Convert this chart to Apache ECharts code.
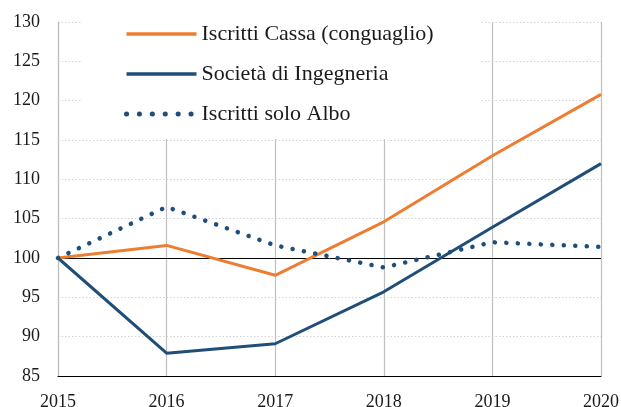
<!DOCTYPE html>
<html><head><meta charset="utf-8">
<script src="https://cdn.jsdelivr.net/npm/echarts@6/dist/echarts.min.js"></script>
<style>html,body{margin:0;padding:0;background:#fff}#c{width:621px;height:407px}</style>
</head><body><div id="c"></div>
<script>
const years = ['2015','2016','2017','2018','2019','2020'];
const iscrittiCassa = [100, 101.6, 97.8, 104.6, 113.0, 120.8];
const societa = [100, 87.9, 89.1, 95.7, 103.9, 112.0];
const soloAlbo = [100, 106.5, 101.6, 98.8, 102.0, 101.4];
const seriesNames = ['Iscritti Cassa (conguaglio)', 'Società di Ingegneria', 'Iscritti solo Albo'];

const FONT = '"Liberation Serif", "DejaVu Serif", serif';
const ORANGE = '#ED7D31', BLUE = '#1F4E79';
const chart = echarts.init(document.getElementById('c'), null, {renderer:'canvas'});
chart.setOption({
  animation: false,
  backgroundColor: '#fff',
  grid: {left: 58, right: 20, top: 22, bottom: 31, containLabel: false, outerBoundsMode: 'none'},
  legend: {
    orient: 'vertical', left: 82, top: 0,
    padding: [23, 47, 14, 42],
    backgroundColor: '#fff',
    itemWidth: 70, itemHeight: 14, itemGap: 18,
    itemStyle: {opacity: 0},
    data: [
      {name: seriesNames[0], lineStyle: {color: ORANGE, width: 3.5}},
      {name: seriesNames[1], lineStyle: {color: BLUE, width: 3.5}},
      {name: seriesNames[2], lineStyle: {color: BLUE, width: 5, type: [0.1, 12.8], cap: 'round'}}
    ],
    textStyle: {fontFamily: FONT, fontSize: 22, color: '#1a1a1a', lineHeight: 22},
    z: 10
  },
  xAxis: {
    type: 'category', data: years, boundaryGap: false,
    axisLine: {show: true, lineStyle: {color: '#000', width: 1.2}},
    axisTick: {show: false},
    axisLabel: {fontFamily: FONT, fontSize: 18, color: '#1a1a1a', margin: 17, showMaxLabel: true},
    splitLine: {show: true, lineStyle: {color: '#bfbfbf', width: 1.2}}
  },
  yAxis: {
    type: 'value', min: 85, max: 130, interval: 5,
    axisLine: {show: true, lineStyle: {color: '#bfbfbf', width: 1.2}},
    axisTick: {show: false},
    axisLabel: {fontFamily: FONT, fontSize: 18, color: '#1a1a1a', margin: 18},
    splitLine: {show: true, lineStyle: {color: '#d4d4d4', width: 1.2, type: [1.5, 2]}}
  },
  series: [
    {
      name: seriesNames[0], type: 'line', data: iscrittiCassa, symbol: 'none',
      lineStyle: {color: ORANGE, width: 3}, itemStyle: {color: ORANGE}, z: 3,
      markLine: {silent: true, symbol: 'none', label: {show: false},
        lineStyle: {color: '#000', width: 1, type: 'solid'}, data: [{yAxis: 100}], z: 1}
    },
    {
      name: seriesNames[1], type: 'line', data: societa, symbol: 'none',
      lineStyle: {color: BLUE, width: 3}, itemStyle: {color: BLUE}, z: 3
    },
    {
      name: seriesNames[2], type: 'line', data: soloAlbo, symbol: 'none',
      lineStyle: {color: BLUE, width: 4.5, type: [0.1, 11.4], cap: 'round'}, itemStyle: {color: BLUE}, z: 3
    }
  ]
});
</script></body></html>
